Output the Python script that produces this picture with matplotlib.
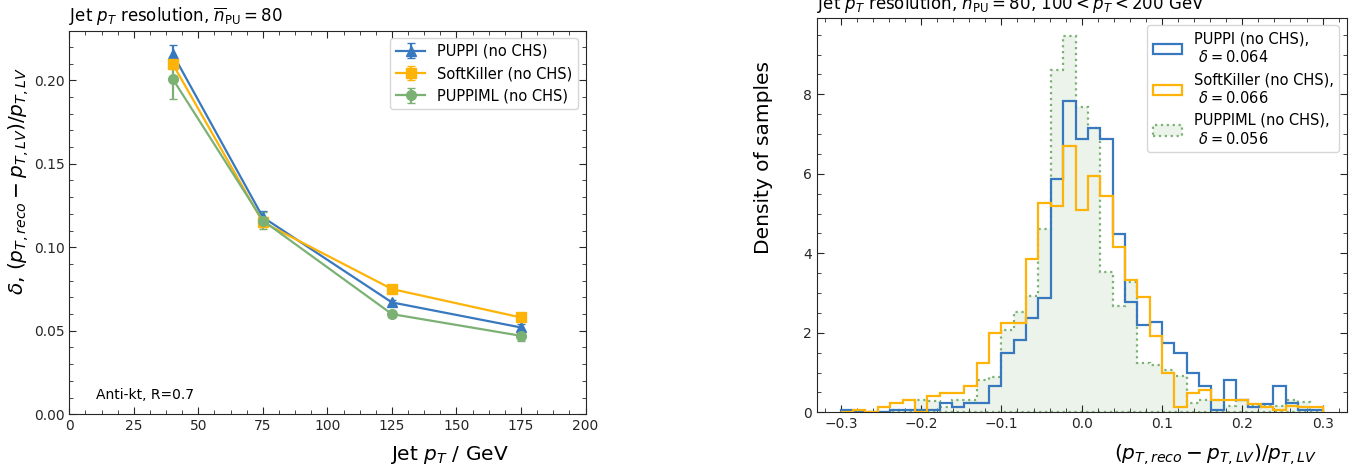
import numpy as np
import matplotlib
matplotlib.use("Agg")
import matplotlib.pyplot as plt
from matplotlib.ticker import AutoMinorLocator, MultipleLocator

# ---------------- data: left panel ----------------
jet_pt = [40, 75, 125, 175]
puppi_res = [0.216, 0.118, 0.067, 0.052]
puppi_err = [0.005, 0.004, 0.0015, 0.002]
sk_res = [0.210, 0.115, 0.075, 0.058]
sk_err = [0.003, 0.003, 0.001, 0.001]
ml_res = [0.201, 0.116, 0.060, 0.047]
ml_err = [0.012, 0.005, 0.002, 0.003]

# ---------------- data: right panel (density per bin, 39 bins in [-0.3, 0.3]) ----------------
bin_lo, bin_hi, n_bins = -0.3, 0.3, 39
puppi_hist = [0.06, 0.0, 0.0, 0.0, 0.06, 0.06, 0.06, 0.06, 0.23, 0.14,
              0.23, 0.23, 0.66, 1.49, 1.83, 2.37, 2.87, 5.86, 7.83, 6.88,
              7.14, 6.88, 4.49, 2.77, 2.20, 2.27, 1.75, 1.50, 0.99, 0.66,
              0.06, 0.81, 0.30, 0.14, 0.22, 0.66, 0.23, 0.06, 0.06]
sk_hist = [0.0, 0.06, 0.0, 0.14, 0.24, 0.32, 0.0, 0.41, 0.49, 0.49,
           0.66, 1.24, 1.99, 2.24, 2.24, 3.85, 5.27, 5.19, 6.69, 5.10,
           5.94, 5.43, 4.17, 3.33, 2.91, 1.91, 0.98, 0.13, 0.49, 0.57,
           0.32, 0.32, 0.32, 0.21, 0.14, 0.06, 0.17, 0.13, 0.13]
ml_hist = [0.0, 0.0, 0.0, 0.0, 0.06, 0.06, 0.31, 0.28, 0.14, 0.31,
           0.31, 0.81, 0.90, 2.07, 2.52, 2.92, 4.62, 8.61, 9.46, 7.67,
           7.14, 3.53, 2.67, 3.27, 1.24, 1.18, 1.07, 0.92, 0.24, 0.32,
           0.32, 0.15, 0.32, 0.15, 0.15, 0.15, 0.32, 0.26, 0.06]
labels_left = ["PUPPI (no CHS)", "SoftKiller (no CHS)", "PUPPIML (no CHS)"]
labels_right = ["PUPPI (no CHS),\n $\\delta = 0.064$",
                "SoftKiller (no CHS),\n $\\delta = 0.066$",
                "PUPPIML (no CHS),\n $\\delta = 0.056$"]

BLUE = "#3778bf"
AMBER = "#feb308"
GREEN = "#7bb274"
DARK = "#262626"

plt.rcParams.update({
    "font.family": ["DejaVu Sans"],
    "xtick.direction": "in",
    "ytick.direction": "in",
    "xtick.top": True,
    "ytick.right": True,
    "xtick.major.size": 5,
    "ytick.major.size": 5,
    "xtick.minor.size": 3,
    "ytick.minor.size": 3,
    "xtick.labelsize": 10,
    "ytick.labelsize": 10,
    "axes.edgecolor": DARK,
    "xtick.color": DARK,
    "ytick.color": DARK,
    "text.color": "black",
})

W, H = 1366, 474
fig = plt.figure(figsize=(W / 100, H / 100), dpi=100)

def px_axes(x0, x1, ytop, ybot):
    return fig.add_axes([x0 / W, 1 - ybot / H, (x1 - x0) / W, (ybot - ytop) / H])

LABEL_FS = 14.5
LEGEND_FS = 10.5

# ---------------- left panel ----------------
ax1 = px_axes(69.3, 585.5, 30.7, 414.3)
ax1.errorbar(jet_pt, puppi_res, yerr=puppi_err, fmt="-^", color=BLUE, ms=7,
             lw=1.6, capsize=3, label=labels_left[0])
ax1.errorbar(jet_pt, sk_res, yerr=sk_err, fmt="-s", color=AMBER, ms=7,
             lw=1.6, capsize=3, label=labels_left[1])
ax1.errorbar(jet_pt, ml_res, yerr=ml_err, fmt="-o", color=GREEN, ms=7,
             lw=1.6, capsize=3, label=labels_left[2])
ax1.set_xlim(0, 200)
ax1.set_ylim(0, 0.2297)
ax1.xaxis.set_major_locator(MultipleLocator(25))
ax1.xaxis.set_minor_locator(AutoMinorLocator(4))
ax1.yaxis.set_major_locator(MultipleLocator(0.05))
ax1.yaxis.set_minor_locator(AutoMinorLocator(5))
ax1.set_title("Jet $p_T$ resolution, $\\overline{n}_{\\mathrm{PU}} = 80$",
              loc="left", fontsize=12)
ax1.set_xlabel("Jet $p_T$ / GeV", fontsize=LABEL_FS)
ax1.set_ylabel("$\\delta$, $(p_{T,reco} - p_{T,LV})/p_{T,LV}$", fontsize=LABEL_FS)
ax1.xaxis.label.set_va("center")
ax1.yaxis.label.set_va("center")
ax1.xaxis.set_label_coords(0.7356, -0.106)
ax1.yaxis.set_label_coords(-0.099, 0.608)
ax1.text(0.052, 0.05, "Anti-kt, R=0.7", transform=ax1.transAxes,
         fontsize=10, ha="left", va="center")
ax1.legend(loc="upper right", fontsize=LEGEND_FS)

# ---------------- right panel ----------------
ax2 = px_axes(816.7, 1346.7, 18.0, 412.3)
edges = np.linspace(bin_lo, bin_hi, n_bins + 1)
centers = 0.5 * (edges[:-1] + edges[1:])
ax2.hist(centers, bins=edges, weights=ml_hist, histtype="stepfilled",
         facecolor=(123 / 255, 178 / 255, 116 / 255, 0.15), edgecolor=GREEN,
         linestyle=":", linewidth=1.6, label=labels_right[2], zorder=1)
ax2.hist(centers, bins=edges, weights=puppi_hist, histtype="step",
         color=BLUE, linewidth=1.6, label=labels_right[0], zorder=2)
ax2.hist(centers, bins=edges, weights=sk_hist, histtype="step",
         color=AMBER, linewidth=1.6, label=labels_right[1], zorder=3)
ax2.set_xlim(-0.33, 0.33)
ax2.set_ylim(0, 9.92)
ax2.xaxis.set_major_locator(MultipleLocator(0.1))
ax2.xaxis.set_minor_locator(AutoMinorLocator(5))
ax2.yaxis.set_major_locator(MultipleLocator(2))
ax2.yaxis.set_minor_locator(AutoMinorLocator(4))
ax2.set_title("Jet $p_T$ resolution, $\\overline{n}_{\\mathrm{PU}} = 80$, "
              "$100 < p_T < 200$ GeV", loc="left", fontsize=12)
ax2.set_xlabel("$(p_{T,reco} - p_{T,LV})/p_{T,LV}$", fontsize=LABEL_FS)
ax2.set_ylabel("Density of samples", fontsize=LABEL_FS)
ax2.xaxis.label.set_va("center")
ax2.yaxis.label.set_va("center")
ax2.xaxis.set_label_coords(0.7515, -0.108)
ax2.yaxis.set_label_coords(-0.101, 0.647)
h, l = ax2.get_legend_handles_labels()
order = [1, 2, 0]
ax2.legend([h[i] for i in order], [l[i] for i in order], loc="upper right",
           fontsize=LEGEND_FS)

fig.savefig("out.png", dpi=100)
